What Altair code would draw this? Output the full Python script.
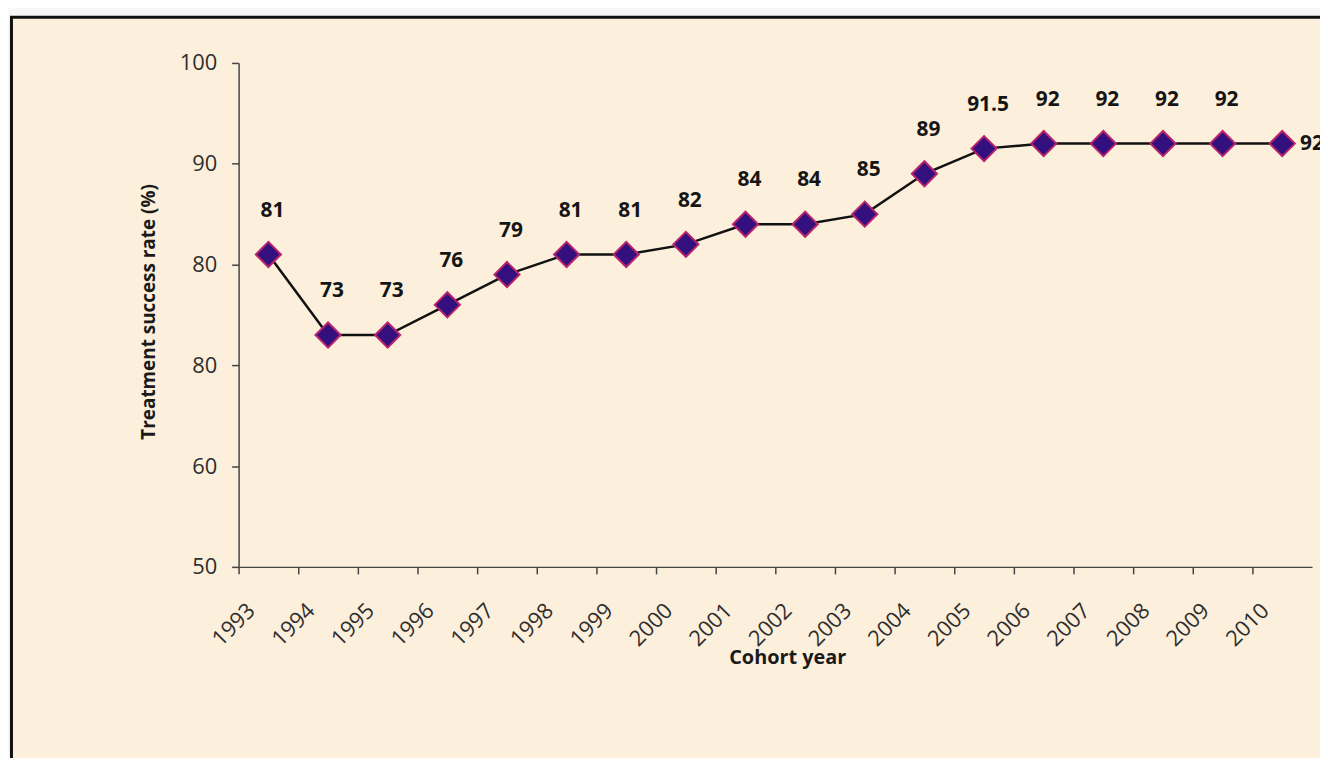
import altair as alt
import pandas as pd

# ---- data ----
years = [str(y) for y in range(1993, 2011)]
rates = [81, 73, 73, 76, 79, 81, 81, 82, 84, 84, 85, 89, 91.5, 92, 92, 92, 92, 92]
y_tick_values = [50, 60, 70, 80, 90, 100]
y_tick_labels = ["50", "60", "80", "80", "90", "100"]  # as printed in the original
x_title = "Cohort year"
y_title = "Treatment success rate (%)"

df = pd.DataFrame({"year": years, "rate": rates})

FONT = "Open Sans"
CREAM = "#fcefdb"
LAST = years[-1]

label_expr = ""
for v, l in zip(y_tick_values, y_tick_labels):
    label_expr += f"datum.value == {v} ? '{l}' : "
label_expr += "datum.label"

x_enc = alt.X(
    "year:O",
    sort=years,
    scale=alt.Scale(type="band", paddingInner=0, paddingOuter=0),
    axis=alt.Axis(
        title=x_title,
        zindex=1,
        bandPosition=0,
        labelAngle=-45,
        labelAlign="right",
        labelBaseline="middle",
        labelOffset=-17,
        labelPadding=33,
        labelOverlap=False,
        tickSize=7,
        labelFont=FONT,
        labelFontSize=22,
        labelColor="#2e2e2e",
        titleFont=FONT,
        titleFontSize=20,
        titleFontWeight="bold",
        titleColor="#1a1a1a",
        titleX=552,
        titleY=91,
        titleAlign="center",
        titleBaseline="middle",
        domainColor="#444444",
        tickColor="#444444",
        domainWidth=1.5,
        tickWidth=1.5,
        grid=False,
    ),
)

y_enc = alt.Y(
    "rate:Q",
    scale=alt.Scale(domain=[50, 100], nice=False, zero=False),
    axis=alt.Axis(
        title=y_title,
        zindex=1,
        values=y_tick_values,
        labelExpr=label_expr,
        tickSize=7,
        labelPadding=15,
        labelFont=FONT,
        labelFontSize=22,
        labelColor="#2e2e2e",
        titleFont=FONT,
        titleFontSize=19,
        titleFontWeight="bold",
        titleColor="#1a1a1a",
        titleAngle=-90,
        titleX=-91,
        titleY=250,
        titleAlign="center",
        titleBaseline="middle",
        domainColor="#444444",
        tickColor="#444444",
        domainWidth=1.5,
        tickWidth=1.5,
        grid=False,
    ),
)

frame = alt.Chart(pd.DataFrame({"k": [0]})).mark_rect(
    fill=CREAM, stroke="#111111", strokeWidth=3, clip=False
).encode(
    x=alt.value(-228.5), x2=alt.value(1300), y=alt.value(-46), y2=alt.value(900)
)

base = alt.Chart(df)

line = base.mark_line(color="#111111", strokeWidth=2.5).encode(x=x_enc, y=y_enc)

points = base.mark_point(
    shape="diamond", filled=True, size=640, fill="#34107e", stroke="#b8236c",
    strokeWidth=2, opacity=1
).encode(x=x_enc, y=y_enc)

labels = base.transform_filter(alt.datum.year != LAST).mark_text(
    font=FONT, fontSize=21, fontWeight="bold", color="#151515",
    baseline="middle", align="center", dy=-44, dx=4
).encode(x=x_enc, y=y_enc, text=alt.Text("rate:Q", format="~g"))

last_label = base.transform_filter(alt.datum.year == LAST).mark_text(
    font=FONT, fontSize=21, fontWeight="bold", color="#151515",
    baseline="middle", align="left", dx=18
).encode(x=x_enc, y=y_enc, text=alt.Text("rate:Q", format="~g"))

chart = alt.layer(frame, line, points, labels, last_label).properties(
    width=1080,
    height=507,
    autosize=alt.AutoSizeParams(type="none"),
    padding={"left": 232, "top": 53, "right": 8, "bottom": 190},
    background="#f7f7f7",
).configure_view(stroke=None)

chart.save("out.html", embed_options={"renderer": "svg", "actions": False})
